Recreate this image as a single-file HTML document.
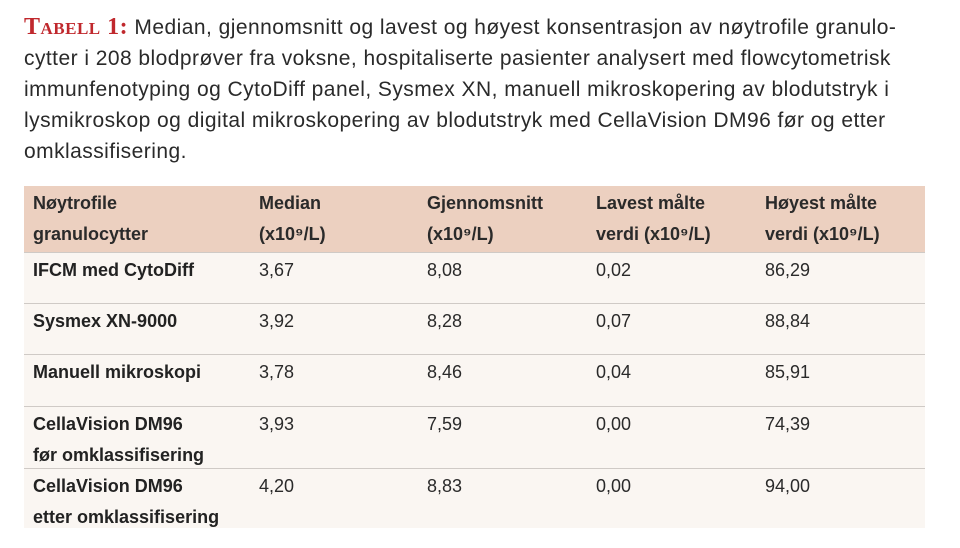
<!DOCTYPE html>
<html><head><meta charset="utf-8"><style>
body{margin:0;width:960px;height:548px;background:#fff;font-family:"Liberation Sans",sans-serif;color:#222;position:relative;overflow:hidden}
#cap{position:absolute;left:24px;top:12px;width:936px;font-size:21px;line-height:31px;color:#2a2a2a;letter-spacing:0.45px;white-space:nowrap}
#cap b{color:#c0282d;font-family:"Liberation Serif",serif;font-variant:small-caps;font-size:24px;letter-spacing:0.5px}
#tbl{position:absolute;left:24px;top:186px;width:901px;height:342px;background:#faf6f2}
#hd{position:absolute;left:0;top:0;width:901px;height:66px;background:#ecd0c0}
.c{position:absolute;font-size:18px;line-height:31px;white-space:nowrap}
.h{font-weight:bold;color:#2a2a2a}
.r{font-weight:bold;color:#222}
.v{color:#2a2a2a}
.ln{position:absolute;left:0;width:901px;height:1px;background:#cfcac6}
</style></head><body>
<div id="cap"><b>Tabell 1:</b> Median, gjennomsnitt og lavest og høyest konsentrasjon av nøytrofile granulo-<br>cytter i 208 blodprøver fra voksne, hospitaliserte pasienter analysert med flowcytometrisk<br>immunfenotyping og CytoDiff panel, Sysmex XN, manuell mikroskopering av blodutstryk i<br>lysmikroskop og digital mikroskopering av blodutstryk med CellaVision DM96 før og etter<br>omklassifisering.</div>
<div id="tbl">
<div id="hd"></div>
</div>
<script>
const cols=[9,235,403,572,741];
const header=[["Nøytrofile","granulocytter"],["Median","(x10⁹/L)"],["Gjennomsnitt","(x10⁹/L)"],["Lavest målte","verdi (x10⁹/L)"],["Høyest målte","verdi (x10⁹/L)"]];
const methods=[["IFCM med CytoDiff"],["Sysmex XN-9000"],["Manuell mikroskopi"],["CellaVision DM96","før omklassifisering"],["CellaVision DM96","etter omklassifisering"]];
const medians=["3,67","3,92","3,78","3,93","4,20"];
const means=["8,08","8,28","8,46","7,59","8,83"];
const mins=["0,02","0,07","0,04","0,00","0,00"];
const maxs=["86,29","88,84","85,91","74,39","94,00"];
const rowTops=[66,117,168,220,282];
const t=document.getElementById('tbl');
function cell(x,y,html,cls,name){const d=document.createElement('div');d.className='c '+cls;d.style.left=x+'px';d.style.top=y+'px';d.innerHTML=html;


t.appendChild(d);}
header.forEach((h,i)=>cell(cols[i],2,h.join('<br>'),'h','header-cell'));
methods.forEach((m,r)=>{
 const y=rowTops[r]+3;
 if(r>0){const l=document.createElement('div');l.className='ln';l.style.top=rowTops[r]+'px';
 
 
 t.appendChild(l);}
 cell(cols[0],y,m.join('<br>'),'r','method-label');
 cell(cols[1],y,medians[r],'v','median-value');
 cell(cols[2],y,means[r],'v','mean-value');
 cell(cols[3],y,mins[r],'v','min-value');
 cell(cols[4],y,maxs[r],'v','max-value');
});
const l0=document.createElement('div');l0.className='ln';l0.style.top='66px';


t.appendChild(l0);
</script>
</body></html>
